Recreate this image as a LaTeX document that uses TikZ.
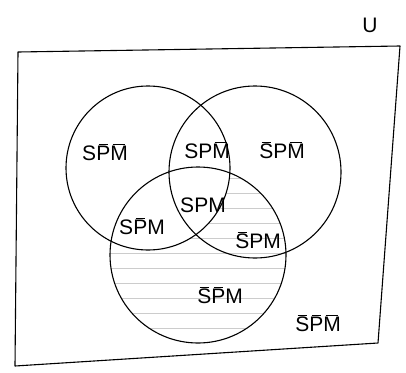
\documentclass[tikz,border=0pt]{standalone}
\usepackage{fontspec}
\setmainfont{Liberation Sans}
\newcommand{\ob}[1]{${\mkern2mu\overline{\mkern-2mu\mbox{#1}\mkern-2mu}\mkern2mu}$}
\begin{document}
\begin{tikzpicture}[x=1pt,y=-1pt,
  edge/.style={line width=1.1pt, black, line join=round},
  lbl/.style={font=\fontsize{21}{23}\selectfont, inner sep=1pt},
  hatch/.style={gray!40, line width=0.7pt}]
\useasboundingbox (0,0) rectangle (406,372);
% universe rectangle corners
\coordinate (tl) at (18,52);
\coordinate (tr) at (400,46);
\coordinate (br) at (378,343);
\coordinate (bl) at (15,366);
% circle centres
\coordinate (cS) at (148,168);
\coordinate (cP) at (255,172);
\coordinate (cM) at (198,255);
% shading of M outside S
\begin{scope}
  \clip (cM) circle (88);
  \foreach \yy in {178,193,...,342} {
    \draw[hatch] (100,\yy) -- (300,\yy);
  }
\end{scope}
\fill[white] (cS) circle (82);
% rectangle
\draw[edge] (tl) -- (tr) -- (br) -- (bl) -- cycle;
% circles
\draw[edge] (cS) circle (82);
\draw[edge] (cP) circle (86);
\draw[edge] (cM) circle (88);
% labels
\node[lbl] (u) at (370,25) {U};
\node[lbl] (r1) at (105,152) {S\ob{P}\ob{M}};
\node[lbl] (r2) at (207,150) {SP\ob{M}};
\node[lbl] (r3) at (282,150) {\ob{S}P\ob{M}};
\node[lbl] (r4) at (203,205) {SPM};
\node[lbl] (r5) at (142,226) {S\ob{P}M};
\node[lbl] (r6) at (258,240) {\ob{S}PM};
\node[lbl] (r7) at (220,295) {\ob{S}\ob{P}M};
\node[lbl] (r8) at (318,323) {\ob{S}\ob{P}\ob{M}};
\end{tikzpicture}
\end{document}
